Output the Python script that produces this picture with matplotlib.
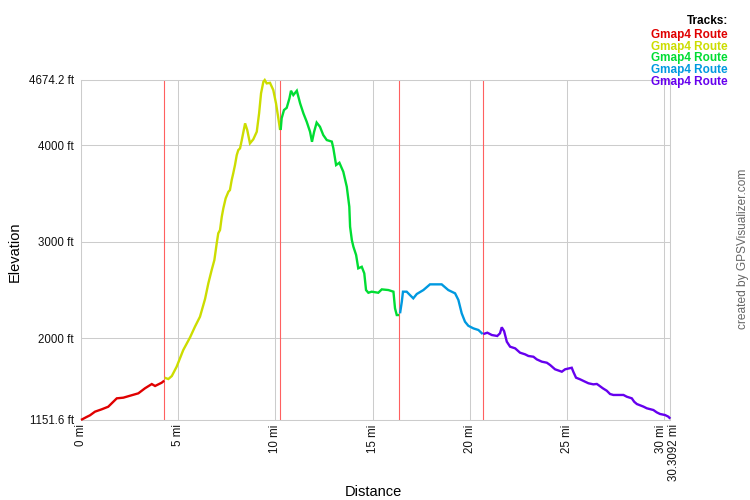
import matplotlib
matplotlib.use("Agg")
import matplotlib.pyplot as plt
from matplotlib.transforms import ScaledTranslation

plt.rcParams['font.family'] = ['Liberation Sans', 'DejaVu Sans']

# ---- data (miles, feet) ----
red_mi = [0.0, 0.29, 0.46, 0.72, 1.06, 1.40, 1.84, 2.18, 2.52, 2.95, 3.29, 3.64, 3.81, 4.15, 4.28]
red_ft = [1152, 1183, 1200, 1238, 1262, 1289, 1376, 1383, 1403, 1428, 1480, 1524, 1504, 1538, 1559]

yellow_mi = [4.30, 4.49, 4.67, 4.92, 5.26, 5.61, 5.86, 6.12, 6.38, 6.55, 6.72, 6.86, 6.98, 7.06,
             7.15, 7.24, 7.32, 7.44, 7.58, 7.66, 7.75, 7.83, 7.92, 8.01, 8.09, 8.18, 8.27, 8.44,
             8.55, 8.69, 8.86, 9.04, 9.16, 9.26, 9.38, 9.45, 9.55, 9.72, 9.89, 10.03, 10.15, 10.24]
yellow_ft = [1590, 1576, 1607, 1704, 1877, 2008, 2118, 2222, 2405, 2568, 2705, 2809, 2982, 3086,
             3120, 3257, 3344, 3448, 3516, 3534, 3637, 3707, 3793, 3896, 3948, 3966, 4052, 4225,
             4156, 4018, 4059, 4138, 4329, 4536, 4656, 4674, 4639, 4645, 4570, 4432, 4277, 4156]

green_mi = [10.27, 10.32, 10.44, 10.58, 10.72, 10.80, 10.92, 11.10, 11.27, 11.44, 11.61, 11.78,
            11.88, 11.99, 12.12, 12.29, 12.46, 12.64, 12.90, 12.98, 13.12, 13.29, 13.49, 13.67,
            13.80, 13.84, 13.93, 14.01, 14.15, 14.26, 14.44, 14.57, 14.66, 14.78, 14.95, 15.29,
            15.47, 15.81, 16.07, 16.15, 16.24, 16.36]
green_ft = [4156, 4277, 4363, 4386, 4484, 4563, 4518, 4563, 4432, 4328, 4241, 4138,
            4034, 4138, 4233, 4190, 4104, 4052, 4036, 3966, 3793, 3817, 3724, 3568,
            3361, 3154, 3016, 2947, 2861, 2723, 2739, 2671, 2498, 2470, 2481, 2470,
            2505, 2498, 2481, 2309, 2239, 2239]

blue_mi = [16.41, 16.50, 16.56, 16.75, 16.92, 17.09, 17.27, 17.61, 17.95, 18.55, 18.89, 19.24,
           19.41, 19.58, 19.75, 19.92, 20.18, 20.44, 20.66]
blue_ft = [2257, 2377, 2481, 2481, 2446, 2412, 2457, 2498, 2557, 2557, 2498, 2464,
           2395, 2257, 2170, 2128, 2101, 2084, 2042]

purple_mi = [20.69, 20.90, 21.13, 21.41, 21.55, 21.64, 21.76, 21.90, 22.07, 22.33, 22.58, 22.84,
             23.01, 23.27, 23.44, 23.70, 23.96, 24.13, 24.38, 24.73, 24.90, 25.24, 25.32, 25.46,
             25.67, 25.93, 26.10, 26.35, 26.53, 26.61, 26.84, 27.04, 27.21, 27.38, 27.90, 28.07,
             28.33, 28.45, 28.59, 28.93, 29.10, 29.44, 29.61, 29.78, 30.04, 30.21, 30.3092]
purple_ft = [2042, 2056, 2032, 2022, 2050, 2112, 2073, 1963, 1911, 1894, 1849, 1832,
             1815, 1807, 1780, 1756, 1745, 1721, 1677, 1652, 1677, 1693, 1652, 1590,
             1573, 1548, 1532, 1521, 1525, 1514, 1480, 1455, 1421, 1411, 1411, 1393,
             1376, 1341, 1317, 1290, 1273, 1255, 1231, 1214, 1203, 1186, 1165]

track_names = ["Gmap4 Route"] * 5
track_colors = ["#e00000", "#ccdd00", "#00dd33", "#0099e0", "#6600ee"]
track_breaks = [4.28, 10.25, 16.37, 20.68]

y_ticks = [1151.6, 2000, 3000, 4000, 4674.2]
y_labels = ["1151.6 ft", "2000 ft", "3000 ft", "4000 ft", "4674.2 ft"]
x_ticks = [0, 5, 10, 15, 20, 25, 30, 30.3092]
x_labels = ["0 mi", "5 mi", "10 mi", "15 mi", "20 mi", "25 mi", "30 mi", "30.3092 mi"]

segments = [(red_mi, red_ft), (yellow_mi, yellow_ft), (green_mi, green_ft),
            (blue_mi, blue_ft), (purple_mi, purple_ft)]

# ---- figure ----
fig = plt.figure(figsize=(7.5, 5), dpi=100)
W, H = 750, 500
ax = fig.add_axes([81 / W, 80 / H, 589.3 / W, 340 / H])
ax.set_xlim(x_ticks[0], x_ticks[-1])
ax.set_ylim(y_ticks[0], y_ticks[-1])

grid_c = "#cccccc"
for s in ax.spines.values():
    s.set_color(grid_c)
    s.set_linewidth(0.75)

for xv in x_ticks:
    ax.axvline(xv, color=grid_c, lw=0.75, zorder=1)
for yv in y_ticks:
    ax.axhline(yv, color=grid_c, lw=0.75, zorder=1)

for b in track_breaks:
    ax.axvline(b, color="#ff6060", lw=0.8, zorder=2)

for (mi, ft), c in zip(segments, track_colors):
    ax.plot(mi, ft, color=c, lw=1.7, zorder=3, clip_on=False,
            solid_joinstyle="miter", solid_capstyle="butt")

ax.set_yticks(y_ticks)
ax.set_yticklabels(y_labels, fontsize=8.3, color="#111111")
ax.set_xticks(x_ticks)
ax.set_xticklabels(x_labels, fontsize=8.3, rotation=90, color="#111111")
ax.tick_params(axis="y", length=0, pad=5)
ax.tick_params(axis="x", length=0, pad=3)
xl = ax.get_xticklabels()
xl[-1].set_transform(xl[-1].get_transform() + ScaledTranslation(4 / 100, 0, fig.dpi_scale_trans))
xl[-2].set_transform(xl[-2].get_transform() + ScaledTranslation(-3 / 100, 0, fig.dpi_scale_trans))

fig.text(15 / W, 1 - 252 / H, "Elevation", rotation=90, ha="center", va="center", fontsize=10.5)
fig.text(373 / W, 1 - 492 / H, "Distance", ha="center", va="center", fontsize=10.5)

fig.text(743 / W, 1 - 249 / H, "created by GPSVisualizer.com", rotation=90,
         ha="center", va="center", fontsize=8.6, color="#666666")

fig.text(728 / W, 1 - 21 / H, "Tracks:", ha="right", va="center", fontsize=8.5,
         fontweight="bold", color="#000000")
leg_y = [35, 47, 58.5, 70.3, 82]
for name, c, yy in zip(track_names, track_colors, leg_y):
    fig.text(728 / W, 1 - yy / H, name, ha="right", va="center", fontsize=8.5,
             fontweight="bold", color=c)

fig.savefig("out.png", dpi=100)
